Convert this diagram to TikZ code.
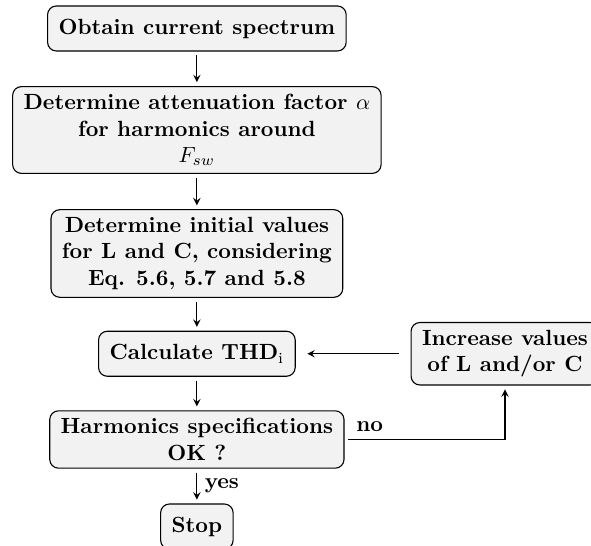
\documentclass[tikz,border=0pt]{standalone}
\usetikzlibrary{arrows}
\tikzset{
    stepbox/.style={draw, rounded corners=4pt, fill=black!5, align=center,
        font=\bfseries, inner xsep=5pt, inner ysep=3.5pt,
        minimum height=20.5pt, outer sep=2pt},
    answer/.style={font=\bfseries}
}
\begin{document}
\begin{tikzpicture}[>=stealth, line width=0.5pt]
    % Page frame
    \clip (0,0) rectangle (9.456,-8.736);

    % Steps
    \node[stepbox] (spectrum) at (3.15,-0.456) {Obtain current spectrum};
    \node[stepbox] (alpha) at (3.15,-2.08) {Determine attenuation factor $\alpha$\\for harmonics around\\$F_{sw}$};
    \node[stepbox] (init) at (3.15,-4.056) {Determine initial values\\for L and C, considering\\Eq. 5.6, 5.7 and 5.8};
    \node[stepbox] (thd) at (3.15,-5.66) {Calculate THD\textsubscript{\mdseries i}};
    \node[stepbox] (increase) at (8.08,-5.66) {Increase values\\of L and/or C};
    \node[stepbox] (check) at (3.15,-7.032) {Harmonics specifications\\OK ?};
    \node[stepbox] (stop) at (3.15,-8.424) {Stop};

    % Flow
    \draw[->] (spectrum) -- (alpha);
    \draw[->] (alpha) -- (init);
    \draw[->] (init) -- (thd);
    \draw[->] (thd) -- (check);
    \draw[->] (check) -- node[answer, right] {yes} (stop);

    % Loop back
    \draw[->] (check.east) node[answer, above right] {no} -| (increase.south);
    \draw[->, shorten >=3.5pt, shorten <=3.5pt] (increase) -- (thd);
\end{tikzpicture}
\end{document}
